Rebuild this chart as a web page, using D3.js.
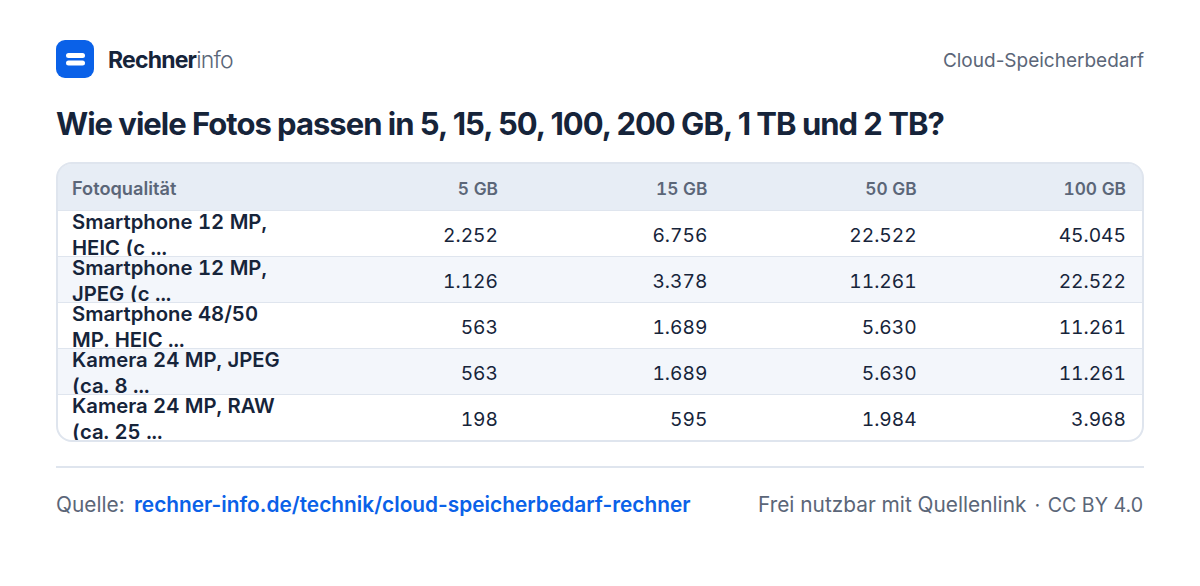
<!DOCTYPE html>
<html>
<head>
<meta charset="utf-8">
<script src="https://cdn.jsdelivr.net/npm/d3@7"></script>
<style>
  html, body { margin: 0; padding: 0; background: #fff; }
  svg { display: block; font-family: Inter, sans-serif; }
  .val, .head, .label { font-variant-numeric: tabular-nums; }
</style>
</head>
<body>
<div id="chart"></div>
<script>
var columns = ["5 GB", "15 GB", "50 GB", "100 GB"];
var labelLines = [
  ["Smartphone 12 MP,", "HEIC (c ..."],
  ["Smartphone 12 MP,", "JPEG (c ..."],
  ["Smartphone 48/50", "MP. HEIC ..."],
  ["Kamera 24 MP, JPEG", "(ca. 8 ..."],
  ["Kamera 24 MP, RAW", "(ca. 25 ..."]
];
var gb5 = [2252, 1126, 563, 563, 198];
var gb15 = [6756, 3378, 1689, 1689, 595];
var gb50 = [22522, 11261, 5630, 5630, 1984];
var gb100 = [45045, 22522, 11261, 11261, 3968];
var seriesValues = [gb5, gb15, gb50, gb100];

var ink = "#16243a", grey = "#5b6678", blue = "#0a61e8", line = "#dfe5ee";

var svg = d3.select("#chart").append("svg").attr("width", 1200).attr("height", 586);
var defs = svg.append("defs");

// table scales
var x = d3.scalePoint().domain(columns).range([498, 1126]);
var y = d3.scaleBand().domain(d3.range(labelLines.length)).range([211, 441]);
var fmt = d3.formatLocale({ decimal: ",", thousands: ".", grouping: [3], currency: ["", "€"] }).format(",d");

// logo
svg.append("rect").attr("x", 56).attr("y", 40).attr("width", 38).attr("height", 38).attr("rx", 9).attr("fill", blue);
svg.append("rect").attr("x", 66).attr("y", 53).attr("width", 19).attr("height", 5).attr("rx", 2.5).attr("fill", "#fff");
svg.append("rect").attr("x", 66).attr("y", 60.5).attr("width", 19).attr("height", 5).attr("rx", 2.5).attr("fill", "#fff");

var brand = svg.append("text").attr("x", 108).attr("y", 68).attr("font-size", 23).attr("letter-spacing", -0.8);
brand.append("tspan").attr("font-weight", 700).attr("fill", ink).text("Rechner");
brand.append("tspan").attr("font-weight", 300).attr("fill", grey).text("info");

svg.append("text").attr("x", 1144).attr("y", 67).attr("text-anchor", "end")
  .attr("font-size", 19).attr("fill", grey).text("Cloud-Speicherbedarf");

svg.append("text").attr("x", 56).attr("y", 135).attr("font-size", 31).attr("font-weight", 700)
  .attr("letter-spacing", -1).attr("fill", ink)
  .text("Wie viele Fotos passen in 5, 15, 50, 100, 200 GB, 1 TB und 2 TB?");

// table body is clipped by the rounded frame
defs.append("clipPath").attr("id", "frame").append("rect")
  .attr("x", 57).attr("y", 164).attr("width", 1086).attr("height", 277).attr("rx", 15);

var table = svg.append("g").attr("clip-path", "url(#frame)");
table.append("rect").attr("x", 57).attr("y", 164).attr("width", 1086).attr("height", 46).attr("fill", "#e7edf5");
table.append("line").attr("x1", 57).attr("x2", 1143).attr("y1", 210.5).attr("y2", 210.5).attr("stroke", line);

table.append("text").attr("x", 72).attr("y", 195).attr("font-size", 18.2).attr("font-weight", 600)
  .attr("fill", grey).text("Fotoqualität");
table.selectAll(".head").data(columns).enter().append("text").attr("class", "head")
  .attr("x", function(d) { return x(d); }).attr("y", 195).attr("text-anchor", "end")
  .attr("font-size", 17.3).attr("font-weight", 600).attr("fill", grey).text(function(d) { return d; });

var rows = table.selectAll(".row").data(labelLines).enter().append("g").attr("class", "row")
  .attr("transform", function(d, i) { return "translate(0," + y(i) + ")"; });

rows.append("rect").attr("x", 57).attr("width", 1086).attr("height", y.bandwidth())
  .attr("fill", function(d, i) { return i % 2 ? "#f3f6fb" : "#fff"; });

rows.each(function(d, i) {
  defs.append("clipPath").attr("id", "row" + i).append("rect")
    .attr("x", 57).attr("y", 0).attr("width", 1086).attr("height", y.bandwidth() - 1);
});

var labels = rows.append("text").attr("class", "label").attr("clip-path", function(d, i) { return "url(#row" + i + ")"; })
  .attr("font-size", 20.3).attr("font-weight", 600).attr("fill", ink);
labels.selectAll("tspan").data(function(d) { return d; }).enter().append("tspan")
  .attr("x", 72).attr("y", function(d, i) { return 18.3 + i * 26; }).text(function(d) { return d; });

rows.append("line").attr("x1", 57).attr("x2", 1143).attr("y1", y.bandwidth() - 0.5).attr("y2", y.bandwidth() - 0.5).attr("stroke", line);

rows.each(function(d, i) {
  d3.select(this).selectAll(".val").data(columns).enter().append("text").attr("class", "val")
    .attr("x", function(c) { return x(c); }).attr("y", 31).attr("text-anchor", "end")
    .attr("font-size", 19.2).attr("fill", ink)
    .text(function(c, j) { return fmt(seriesValues[j][i]); });
});

svg.append("rect").attr("x", 57).attr("y", 163).attr("width", 1086).attr("height", 278).attr("rx", 15)
  .attr("fill", "none").attr("stroke", line).attr("stroke-width", 2);

// footer
svg.append("line").attr("x1", 56).attr("x2", 1144).attr("y1", 467).attr("y2", 467).attr("stroke", line).attr("stroke-width", 2);
svg.append("text").attr("x", 56).attr("y", 512).attr("font-size", 20.85).attr("fill", grey).text("Quelle:");
svg.append("text").attr("x", 134).attr("y", 512).attr("font-size", 20.85).attr("font-weight", 600).attr("fill", blue)
  .text("rechner-info.de/technik/cloud-speicherbedarf-rechner");
svg.append("text").attr("x", 758).attr("y", 512).attr("font-size", 20.85).attr("fill", grey).text("Frei nutzbar mit Quellenlink");
svg.append("text").attr("x", 1037.5).attr("y", 512).attr("text-anchor", "middle").attr("font-size", 20).attr("fill", grey).text("·");
svg.append("text").attr("x", 1143).attr("y", 512).attr("text-anchor", "end").attr("font-size", 19.6).attr("fill", grey).text("CC BY 4.0");
</script>
</body>
</html>
